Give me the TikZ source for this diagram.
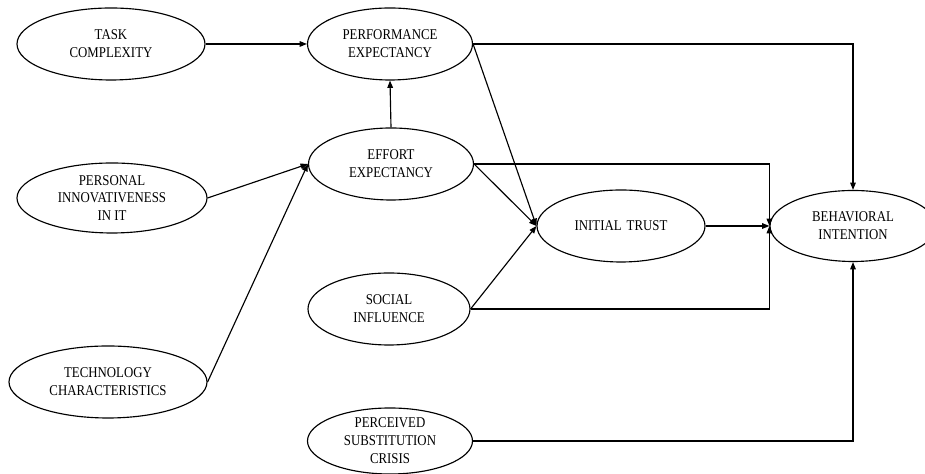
\documentclass[tikz,border=0pt]{standalone}
\usepackage{fontspec}
\setmainfont{Liberation Serif}[FakeStretch=0.86]
\usepackage{tikz}
\usetikzlibrary{arrows.meta}
\usetikzlibrary{shapes.geometric}

\tikzset{
  construct/.style={ellipse, draw, line width=0.65pt, inner sep=0pt, align=center,
    font=\fontsize{8.5}{10.2}\selectfont},
  link/.style={line width=0.65pt, -{Triangle[length=4.2pt,width=3.2pt]}}
}

\begin{document}
\begin{tikzpicture}
          \useasboundingbox (0,0) rectangle (18.5,9.48);
          % left column
          \node[construct, minimum width=3.76cm, minimum height=1.44cm] (tc) at (2.22,8.60) {TASK\\COMPLEXITY};
          \node[construct, minimum width=3.80cm, minimum height=1.40cm] (pi) at (2.24,5.52) {PERSONAL\\INNOVATIVENESS\\IN IT};
          \node[construct, minimum width=3.96cm, minimum height=1.44cm] (tch) at (2.16,1.84) {TECHNOLOGY\\CHARACTERISTICS};
          % middle column
          \node[construct, minimum width=3.30cm, minimum height=1.44cm] (pe) at (7.80,8.60) {PERFORMANCE\\EXPECTANCY};
          \node[construct, minimum width=3.30cm, minimum height=1.44cm] (ee) at (7.82,6.20) {EFFORT\\EXPECTANCY};
          \node[construct, minimum width=3.24cm, minimum height=1.44cm] (si) at (7.78,3.30) {SOCIAL\\INFLUENCE};
          \node[construct, minimum width=3.30cm, minimum height=1.32cm] (psc) at (7.80,0.66) {PERCEIVED\\SUBSTITUTION\\CRISIS};
          % trust and intention
          \node[construct, minimum width=3.36cm, minimum height=1.44cm] (it) at (12.42,4.96) {INITIAL\,\,TRUST};
          \node[construct, minimum width=3.32cm, minimum height=1.42cm] (bi) at (17.06,4.96) {BEHAVIORAL\\INTENTION};
          % arrows into expectancies
          \draw [link] (tc.east) -- (pe.west);
          \draw [link] (ee.north) -- (pe.south);
          \draw [link] (pi.east) -- (ee.west);
          \draw [link] (tch.east) -- (ee.west);
          % arrows into initial trust
          \draw [link] (pe.east) -- (it.west);
          \draw [link] (ee.east) -- (it.west);
          \draw [link] (si.east) -- (it.west);
          % arrows into behavioral intention
          \draw [link] (pe.east) -| (bi.north);
          \draw [link] (ee.east) -- (bi.west |- ee.east) -- (bi.west);
          \draw [link] (si.east) -- (bi.west |- si.east) -- (bi.west);
          \draw [link] (it.east) -- (bi.west);
          \draw [link] (psc.east) -| (bi.south);
        \end{tikzpicture}
\end{document}
